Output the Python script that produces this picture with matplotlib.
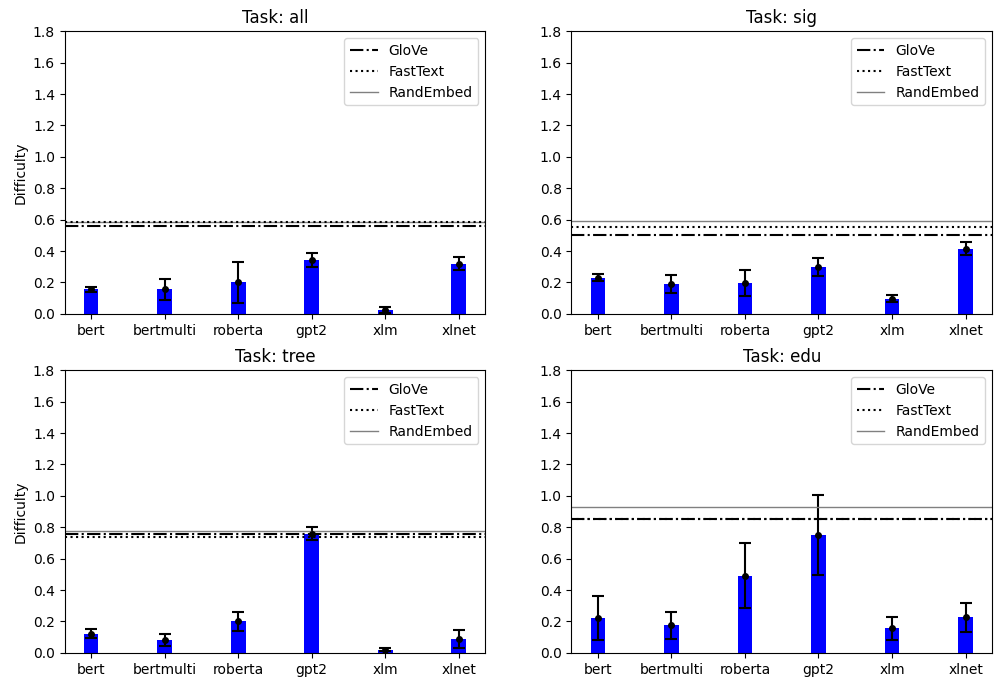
import matplotlib
matplotlib.use('Agg')
import matplotlib.pyplot as plt
import numpy as np

models = ['bert', 'bertmulti', 'roberta', 'gpt2', 'xlm', 'xlnet']
tasks = ['all', 'sig', 'tree', 'edu']

# mean difficulty per model, one list per task
means_all = [0.155, 0.155, 0.20, 0.345, 0.025, 0.32]
means_sig = [0.23, 0.19, 0.195, 0.30, 0.095, 0.415]
means_tree = [0.122, 0.082, 0.20, 0.76, 0.02, 0.087]
means_edu = [0.22, 0.175, 0.49, 0.75, 0.155, 0.225]

# half-width of the error bars
errs_all = [0.015, 0.065, 0.13, 0.045, 0.02, 0.04]
errs_sig = [0.022, 0.06, 0.083, 0.058, 0.023, 0.04]
errs_tree = [0.028, 0.04, 0.06, 0.04, 0.01, 0.058]
errs_edu = [0.14, 0.085, 0.207, 0.255, 0.073, 0.093]

# baselines per task
glove = [0.557, 0.50, 0.755, 0.853]
fasttext = [0.584, 0.555, 0.74, 0.85]
randembed = [0.584, 0.59, 0.775, 0.93]

means = [means_all, means_sig, means_tree, means_edu]
errs = [errs_all, errs_sig, errs_tree, errs_edu]

fig, axes = plt.subplots(2, 2, figsize=(9.95, 6.8), dpi=100)
fig.subplots_adjust(left=0.065, right=0.997, top=0.954, bottom=0.04,
                    wspace=0.205, hspace=0.2)

x = np.arange(len(models))
for i, ax in enumerate(axes.flat):
    ax.bar(x, means[i], width=0.2, color='blue')
    ax.errorbar(x, means[i], yerr=errs[i], fmt='o', color='black',
                markersize=4, capsize=4, elinewidth=1.5, capthick=1.5)
    ax.axhline(glove[i], color='black', linestyle='-.', linewidth=1.5,
               label='GloVe', zorder=3)
    ax.axhline(fasttext[i], color='black', linestyle=':', linewidth=1.5,
               label='FastText', zorder=3)
    ax.axhline(randembed[i], color='grey', linestyle='-', linewidth=1,
               label='RandEmbed', zorder=2)
    ax.set_xticks(x)
    ax.set_xticklabels(models)
    ax.set_ylim(0, 1.8)
    ax.set_yticks(np.arange(0, 1.81, 0.2))
    ax.set_title(f'Task: {tasks[i]}')
    ax.legend(loc='upper right')
    if i % 2 == 0:
        ax.set_ylabel('Difficulty')

fig.savefig('out.png', dpi=100)
